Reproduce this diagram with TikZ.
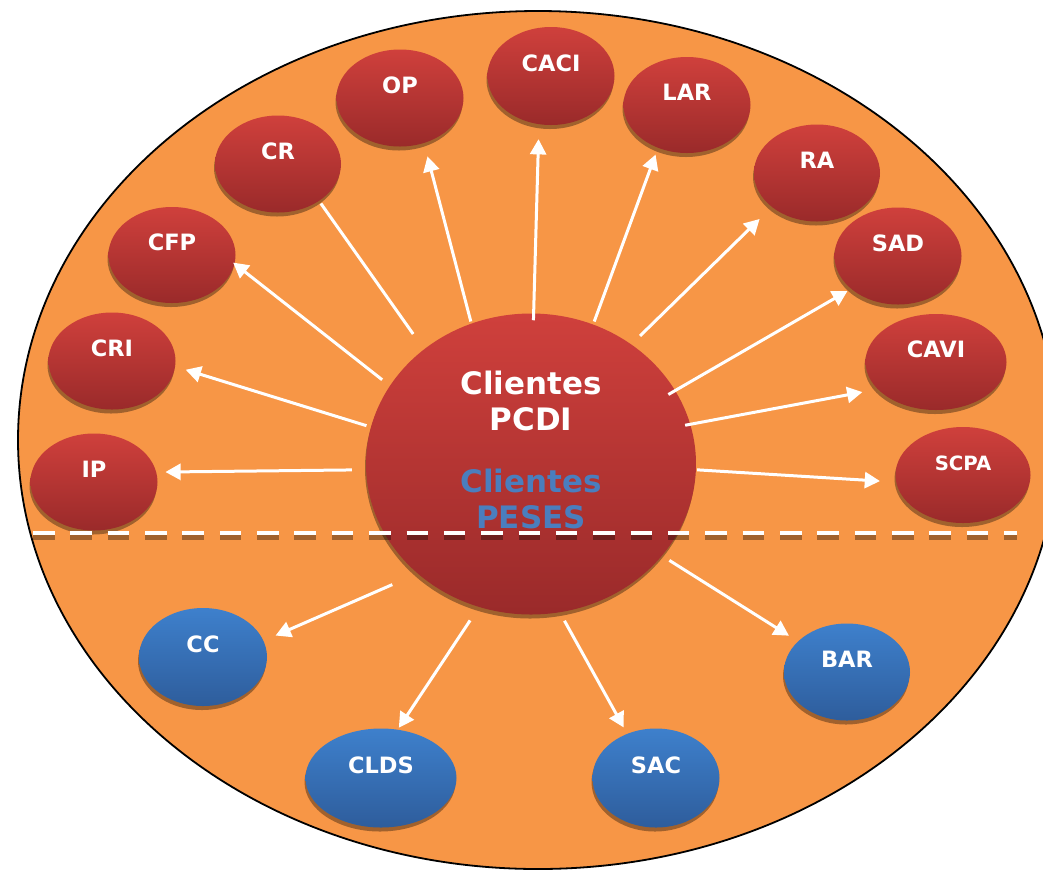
\documentclass[tikz,border=0pt]{standalone}
\usepackage{fontspec}
\setmainfont{DejaVu Sans}
\usetikzlibrary{shapes.geometric,arrows.meta,shadows}
\newdimen\pxu \pxu=0.025cm
\definecolor{bgorange}{HTML}{F79646}
\definecolor{redtop}{HTML}{CF403C}
\definecolor{redbot}{HTML}{9A2A2A}
\definecolor{bluetop}{HTML}{3E80CC}
\definecolor{bluebot}{HTML}{2E5D9C}
\definecolor{pesesblue}{HTML}{4A7EBE}
\begin{document}
\begin{tikzpicture}[x=0.025cm,y=-0.025cm,
  ell/.style={ellipse, inner sep=0pt, text=white,
    font=\bfseries\fontsize{16}{18}\selectfont,
    text height=11pt, text depth=18pt,
    drop shadow={shadow xshift=-1*\pxu, shadow yshift=-4*\pxu, opacity=0.35, fill=black}},
  redell/.style={ell, top color=redtop, bottom color=redbot},
  blueell/.style={ell, top color=bluetop, bottom color=bluebot},
  arr/.style={draw=white, line width=3*\pxu, -{Triangle[width=0.4cm,length=0.38cm]}},
  plainline/.style={draw=white, line width=3*\pxu},
  ctext/.style={align=center, font=\bfseries\fontsize{22}{25}\selectfont},
  dashw/.style={line width=4.5*\pxu, dash pattern=on 0.5375cm off 0.396cm}
]
\useasboundingbox (0,0) rectangle (1043,870);
\begin{scope}
  \clip (0,0) rectangle (1043,870);
  \draw[fill=bgorange, draw=black, line width=1.8*\pxu] (538,440) ellipse [x radius=520, y radius=429];
\end{scope}

% central circle
\node[redell, minimum width=330*\pxu, minimum height=301*\pxu] (C) at (531,464) {};

% upper (red) nodes
\node[redell, minimum width=127*\pxu, minimum height=97*\pxu] (IP)   at (94,482)  {IP};
\node[redell, minimum width=127*\pxu, minimum height=97*\pxu] (CRI)  at (112,361) {CRI};
\node[redell, minimum width=127*\pxu, minimum height=96*\pxu] (CFP)  at (172,255) {CFP};
\node[redell, minimum width=126*\pxu, minimum height=97*\pxu] (CR)   at (278,164) {CR};
\node[redell, minimum width=127*\pxu, minimum height=97*\pxu] (OP)   at (400,98)  {OP};
\node[redell, minimum width=127*\pxu, minimum height=98*\pxu] (CACI) at (551,76)  {CACI};
\node[redell, minimum width=127*\pxu, minimum height=96*\pxu] (LAR)  at (687,105) {LAR};
\node[redell, minimum width=126*\pxu, minimum height=97*\pxu] (RA)   at (817,173) {RA};
\node[redell, minimum width=127*\pxu, minimum height=97*\pxu] (SAD)  at (898,256) {SAD};
\node[redell, minimum width=141*\pxu, minimum height=96*\pxu] (CAVI) at (936,362) {CAVI};
\node[redell, minimum width=135*\pxu, minimum height=96*\pxu,
      font=\bfseries\fontsize{14}{16}\selectfont] (SCPA) at (963,475) {SCPA};

% lower (blue) nodes
\node[blueell, minimum width=128*\pxu, minimum height=98*\pxu] (CC)   at (203,657) {CC};
\node[blueell, minimum width=151*\pxu, minimum height=99*\pxu] (CLDS) at (381,778) {CLDS};
\node[blueell, minimum width=127*\pxu, minimum height=99*\pxu] (SAC)  at (656,778) {SAC};
\node[blueell, minimum width=126*\pxu, minimum height=97*\pxu] (BAR)  at (847,672) {BAR};

% connectors
\draw[arr, shorten <=14*\pxu,  shorten >=9*\pxu]    (C.182)   -- (IP.9);
\draw[arr, shorten <=4.5*\pxu, shorten >=10.8*\pxu] (C.167)   -- (CRI.-5);
\draw[arr, shorten <=9.7*\pxu, shorten >=-2*\pxu]   (C.151)   -- (CFP.-8);
\draw[plainline, shorten <=18.6*\pxu, shorten >=3*\pxu] (C.133) -- (CR.-42);
\draw[arr, shorten <=2*\pxu,   shorten >=13.6*\pxu] (C.113)   -- (OP.-62);
\draw[arr, shorten <=-7*\pxu,  shorten >=14.8*\pxu] (C.89)    -- (CACI.-104);
\draw[arr, shorten <=3*\pxu,   shorten >=7*\pxu]    (C.66)    -- (LAR.-124);
\draw[arr, shorten <=12*\pxu,  shorten >=17*\pxu]   (C.50.5)  -- (RA.-143);
\draw[arr, shorten <=-8*\pxu,  shorten >=4*\pxu]    (C.27)    -- (SAD.-145);
\draw[arr, shorten <=-5.4*\pxu,shorten >=15.5*\pxu] (C.14)    -- (CAVI.-155);
\draw[arr, shorten <=1*\pxu,   shorten >=16*\pxu]   (C.-2)    -- (SCPA.-174);
\draw[arr, shorten <=27.5*\pxu,shorten >=13*\pxu]   (C.-136)  -- (CC.15);
\draw[arr, shorten <=16*\pxu,  shorten >=2*\pxu]    (C.-110.5)-- (CLDS.71);
\draw[arr, shorten <=9.5*\pxu, shorten >=7*\pxu]    (C.-79)   -- (SAC.123);
\draw[arr, shorten <=8.6*\pxu, shorten >=10.5*\pxu] (C.-35.6) -- (BAR.148);

% central texts
\node[ctext, text=white]      (tPCDI)  at (531,401) {Clientes\\PCDI};
\node[ctext, text=pesesblue]  (tPESES) at (531,499) {Clientes\\PESES};

% dashed separator
\coordinate (dL) at (33,533);
\coordinate (dR) at (1017,533);
\draw[dashw, draw=black, opacity=0.35] ([yshift=-4.5*\pxu]dL) -- ([yshift=-4.5*\pxu]dR);
\draw[dashw, draw=white] (dL) -- (dR);
\end{tikzpicture}
\end{document}
